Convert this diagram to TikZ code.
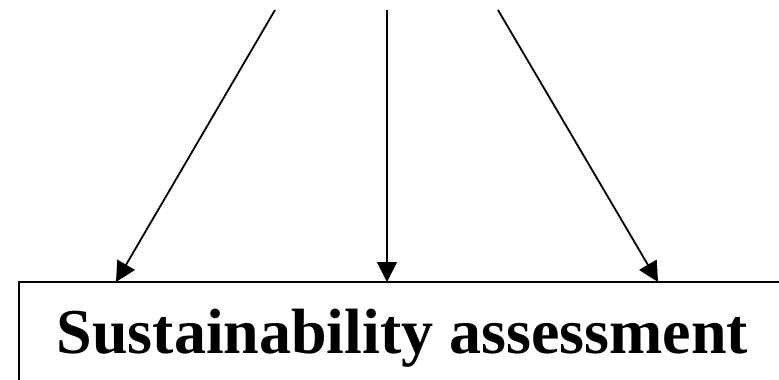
\documentclass[tikz,border=0pt]{standalone}
\usepackage{fontspec}
\setmainfont{Liberation Serif}
\usetikzlibrary{arrows.meta}
\tikzset{
  conn/.style={line width=1.8pt, -{Triangle[length=20pt,width=20pt]}},
  boxstyle/.style={draw, line width=2pt, minimum width=767pt, minimum height=143pt, inner sep=0pt},
  titlestyle/.style={font=\bfseries\fontsize{64}{70}\selectfont, inner sep=0pt, anchor=base}
}
\begin{document}
\begin{tikzpicture}[x=1pt,y=-1pt]
\useasboundingbox (0,0) rectangle (779,380);
\clip (0,0) rectangle (779,380);
\node[boxstyle] (box) at (402.5,353.5) {};
\node[titlestyle] (title) at (402.5,353) {Sustainability assessment};
\coordinate (s1) at (275,10);
\coordinate (s2) at (387,10);
\coordinate (s3) at (498,10);
\coordinate (t1) at (116,282);
\coordinate (t2) at (387,282);
\coordinate (t3) at (658,282);
\draw[conn] (s1) -- (t1);
\draw[conn] (s2) -- (t2);
\draw[conn] (s3) -- (t3);
\end{tikzpicture}
\end{document}
